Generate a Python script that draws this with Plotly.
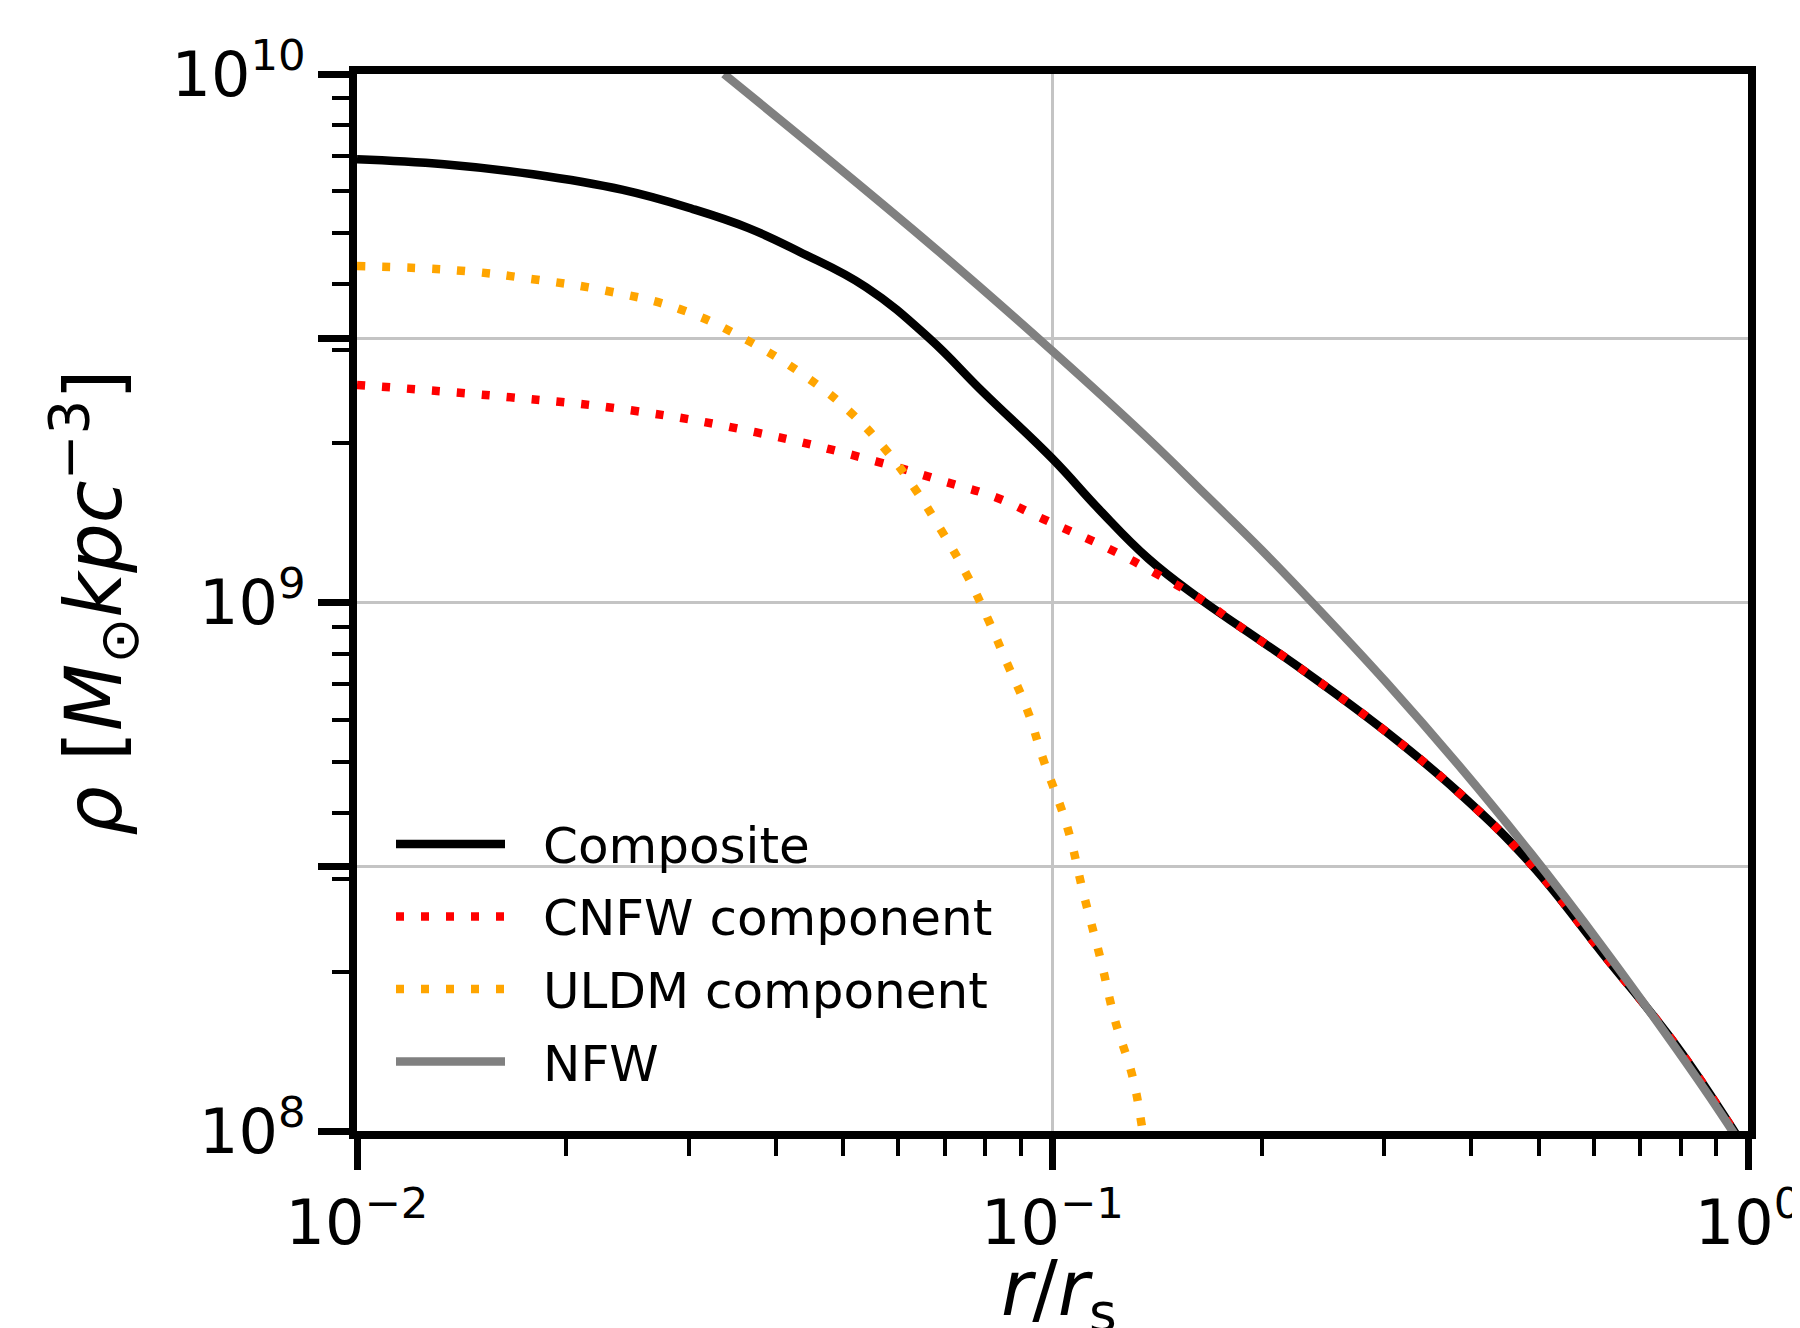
import plotly.graph_objects as go

# ---------------- data ----------------
r_composite = [0.0100, 0.01334, 0.01791, 0.02404, 0.0303, 0.03656, 0.04325, 0.05395, 0.06653,
               0.07925, 0.1000, 0.1167, 0.1374, 0.1622, 0.1905, 0.2259, 0.3020,
               0.3837, 0.4875, 0.6194, 0.7889, 0.955, 1.0]
rho_composite = [6.90e9, 6.75e9, 6.46e9, 6.04e9, 5.56e9, 5.11e9, 4.61e9, 3.95e9, 3.16e9,
                 2.51e9, 1.87e9, 1.50e9, 1.21e9, 1.02e9, 8.81e8, 7.55e8, 5.69e8,
                 4.37e8, 3.20e8, 2.16e8, 1.45e8, 1.00e8, 9.1e7]

r_cnfw = [0.0100, 0.01637, 0.02477, 0.03741, 0.05572, 0.07031, 0.08299, 0.09683,
          0.1211, 0.1400, 0.1622, 0.1905, 0.2259, 0.3020, 0.3837, 0.4875,
          0.6194, 0.7889, 0.955, 1.0]
rho_cnfw = [2.58e9, 2.45e9, 2.31e9, 2.10e9, 1.85e9, 1.69e9, 1.58e9, 1.44e9,
            1.26e9, 1.14e9, 1.02e9, 8.81e8, 7.55e8, 5.69e8, 4.37e8, 3.20e8,
            2.16e8, 1.45e8, 1.00e8, 9.1e7]

r_uldm = [0.0100, 0.01393, 0.01791, 0.02280, 0.02911, 0.03631, 0.04467, 0.05105,
          0.05728, 0.06324, 0.06918, 0.07499, 0.08054, 0.08610, 0.09204, 0.09683,
          0.1050, 0.1109, 0.1172, 0.1230, 0.1303, 0.1343, 0.1365]
rho_uldm = [4.33e9, 4.25e9, 4.09e9, 3.89e9, 3.59e9, 3.14e9, 2.65e9, 2.30e9,
            1.96e9, 1.65e9, 1.37e9, 1.14e9, 9.38e8, 7.66e8, 6.25e8, 5.08e8,
            3.76e8, 2.80e8, 2.12e8, 1.62e8, 1.27e8, 1.03e8, 8.9e7]

r_nfw = [0.0337, 0.0665, 0.1000, 0.1368, 0.1667, 0.1995, 0.2371, 0.3020, 0.3837,
         0.4875, 0.6194, 0.7889, 0.914, 1.0]
rho_nfw = [1.00e10, 4.78e9, 2.99e9, 2.05e9, 1.59e9, 1.26e9, 9.95e8, 7.06e8, 4.92e8,
           3.35e8, 2.22e8, 1.43e8, 1.08e8, 9.0e7]

series_names = ["Composite", "CNFW component", "ULDM component", "NFW"]

x_major = [0.01, 0.1, 1.0]
x_major_text = ["10<sup>−2</sup>", "10<sup>−1</sup>", "10<sup>0</sup>"]
y_major = [1e8, 10 ** 8.5, 1e9, 10 ** 9.5, 1e10]
y_major_text = ["10<sup>8</sup>", "", "10<sup>9</sup>", "", "10<sup>10</sup>"]

x_title = "<i>r</i>/<i>r</i><sub>s</sub>"
y_title = "<i>ρ</i> [<i>M</i><sub>⊙</sub><i>kpc</i><sup>−3</sup>]"

# ---------------- styling ----------------
FONT = "DejaVu Sans"
LW = 8.5
DOT = "8px,17px"
styles = [
    dict(color="black", width=LW),
    dict(color="#ff0000", width=LW, dash=DOT),
    dict(color="#ffa500", width=LW, dash=DOT),
    dict(color="#808080", width=LW),
]
data = [(r_composite, rho_composite), (r_cnfw, rho_cnfw), (r_uldm, rho_uldm), (r_nfw, rho_nfw)]

fig = go.Figure()
for (xs, ys), name, st in zip(data, series_names, styles):
    fig.add_trace(go.Scatter(x=xs, y=ys, mode="lines", name=name,
                             line=dict(shape="spline", smoothing=1.2, **st),
                             showlegend=False))

W_FIG, H_FIG = 1800, 1328
L, R, T, B = 349, 1740, 66, 1123
PW, PH = R - L, B - T

x_minor = [k * 10 ** e for e in (-2, -1) for k in range(2, 10)]
y_minor = [k * 10 ** e for e in (8, 9) for k in range(2, 10)]

axis_common = dict(
    type="log", showline=True, linewidth=8, linecolor="black", mirror=True,
    ticks="outside", ticklen=31, tickwidth=6.5, tickcolor="black",
    showgrid=True, gridcolor="#c4c4c4", gridwidth=2.5, zeroline=False,
    tickfont=dict(family=FONT, size=62, color="black"),
    tickmode="array",
)

fig.update_xaxes(range=[-2, 0], tickvals=x_major, ticktext=x_major_text,
                 minor=dict(tickmode="array", tickvals=x_minor, ticks="outside",
                            ticklen=17, tickwidth=3.5, tickcolor="black", showgrid=False),
                 **axis_common)
fig.update_yaxes(range=[8, 10], tickvals=y_major, ticktext=y_major_text,
                 minor=dict(tickmode="array", tickvals=y_minor, ticks="outside",
                            ticklen=17, tickwidth=3.5, tickcolor="black", showgrid=False),
                 title=dict(text=y_title,
                            font=dict(family=FONT, size=78, color="black"), standoff=27),
                 **axis_common)


def px(X):
    return (X - L) / PW


def py(Y):
    return (B - Y) / PH


# x-axis title (placed as annotation for exact vertical position)
fig.add_annotation(xref="paper", yref="paper", x=px(1051), y=py(1286),
                   text=x_title, showarrow=False, xanchor="center", yanchor="middle",
                   font=dict(family=FONT, size=76, color="black"))

# ---------------- custom legend (matplotlib-like) ----------------
legend_rows = [836, 908.5, 981, 1053.5]
for name, st, yrow in zip(series_names, styles, legend_rows):
    fig.add_shape(type="line", xref="paper", yref="paper",
                  x0=px(388), x1=px(497), y0=py(yrow), y1=py(yrow),
                  line=st)
    fig.add_annotation(xref="paper", yref="paper", x=px(533), y=py(yrow + 2),
                       text=name, showarrow=False, xanchor="left", yanchor="middle",
                       font=dict(family=FONT, size=50, color="black"))

fig.update_layout(
    width=W_FIG, height=H_FIG,
    margin=dict(l=L, r=W_FIG - R, t=T, b=H_FIG - B, autoexpand=False),
    paper_bgcolor="white", plot_bgcolor="white",
    font=dict(family=FONT, color="black"),
    showlegend=False,
)

fig.write_html("out.html")
